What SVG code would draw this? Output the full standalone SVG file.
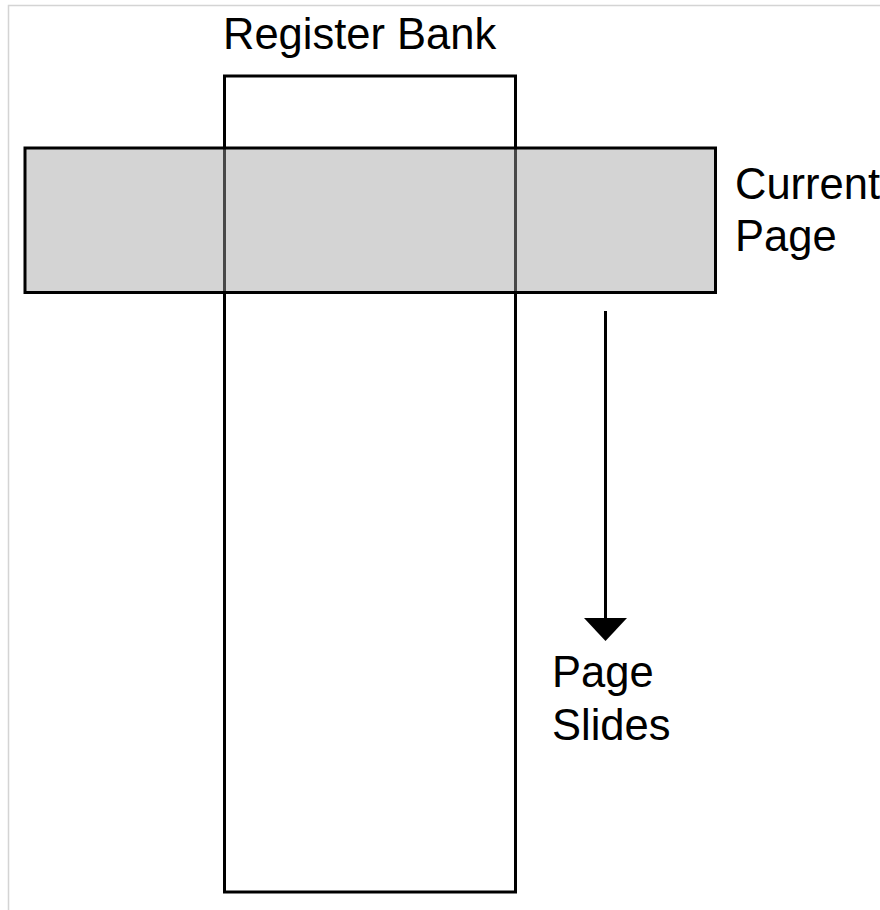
<svg xmlns="http://www.w3.org/2000/svg" width="880" height="910" viewBox="0 0 880 910">
  <style>
    .frame { fill: none; stroke: #d4d4d4; stroke-width: 1.5; }
    .box { stroke: #000; stroke-width: 3; }
    .label { font-family: "Liberation Sans", Arial, sans-serif; font-size: 43.5px; fill: #000; }
  </style>
  <rect width="880" height="910" fill="#fff"/>
  <path class="frame" d="M 8.5 910 V 5.5 H 880"/>

  <g id="register-bank">
    <rect class="box" x="224.5" y="76" width="291" height="816" fill="#fff"/>
    <text class="label" x="223" y="49">Register Bank</text>
  </g>

  <g id="current-page">
    <rect x="25" y="148" width="690.5" height="144.5" fill="#a0a0a0" fill-opacity="0.45"/>
    <rect class="box" x="25" y="148" width="690.5" height="144.5" fill="none"/>
    <text class="label" x="735" y="198.5">Current</text>
    <text class="label" x="735" y="250.5">Page</text>
  </g>

  <g id="connectors">
    <line x1="605.5" y1="311" x2="605.5" y2="618" stroke="#000" stroke-width="3"/>
    <path d="M 584 618 L 627 618 L 605.5 641 Z" fill="#000"/>
  </g>

  <g id="page-slides">
    <text class="label" x="552" y="687">Page</text>
    <text class="label" x="552" y="740">Slides</text>
  </g>
</svg>
